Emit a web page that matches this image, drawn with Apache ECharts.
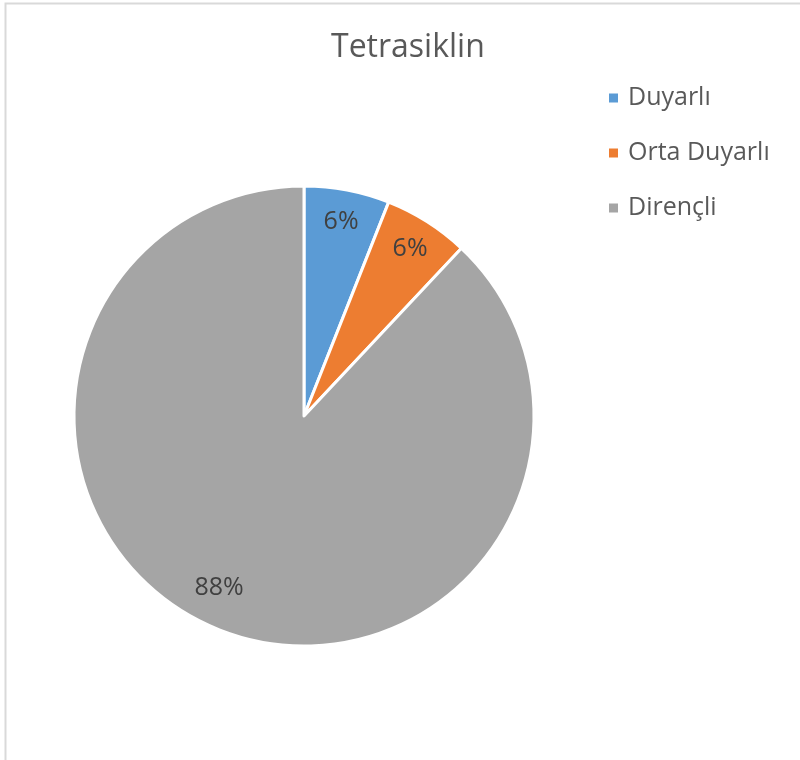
<!DOCTYPE html>
<html>
<head>
<meta charset="utf-8">
<script src="https://cdn.jsdelivr.net/npm/echarts@6/dist/echarts.min.js"></script>
<style>
  html, body { margin: 0; padding: 0; background: #fff; }
  #chart { width: 800px; height: 760px; }
</style>
</head>
<body>
<div id="chart"></div>
<script>
// Tetrasiklin susceptibility shares
const categories = ['Duyarlı', 'Orta Duyarlı', 'Dirençli'];
const percents = [6, 6, 88];
const colors = ['#5B9BD5', '#ED7D31', '#A5A5A5'];

const FONT = '"Open Sans", "DejaVu Sans", sans-serif';
const pieData = categories.map((name, i) => ({ name, value: percents[i], itemStyle: { color: colors[i] } }));

const chart = echarts.init(document.getElementById('chart'), null, { renderer: 'canvas' });
chart.setOption({
  animation: false,
  backgroundColor: '#ffffff',
  title: {
    text: 'Tetrasiklin',
    left: 326,
    top: 27,
    textStyle: { fontFamily: FONT, fontSize: 32, fontWeight: 'normal', color: '#595959' }
  },
  legend: {
    orient: 'vertical',
    left: 602,
    top: 78,
    icon: 'rect',
    itemWidth: 11,
    itemHeight: 11,
    itemGap: 25,
    data: categories,
    textStyle: { fontFamily: FONT, fontSize: 25, color: '#595959', lineHeight: 30, padding: [0, 0, 0, 4] }
  },
  graphic: [{
    type: 'rect',
    shape: { x: 5.5, y: 3.5, width: 900, height: 900 },
    style: { fill: 'none', stroke: '#d9d9d9', lineWidth: 2 },
    silent: true, z: -1
  }],
  series: [
    {
      type: 'pie',
      center: [304, 416],
      radius: [0, 230],
      startAngle: 90,
      clockwise: true,
      avoidLabelOverlap: false,
      label: { show: false },
      labelLine: { show: false },
      itemStyle: { borderColor: '#ffffff', borderWidth: 3 },
      emphasis: { disabled: true },
      data: pieData
    },
    {
      // transparent ring that carries the percentage labels
      type: 'pie',
      center: [304, 416],
      radius: [152, 238],
      startAngle: 90,
      clockwise: true,
      silent: true,
      avoidLabelOverlap: false,
      itemStyle: { color: 'rgba(0,0,0,0)', borderWidth: 0 },
      label: {
        show: true,
        position: 'inside',
        formatter: p => p.value + '%',
        fontFamily: FONT,
        fontSize: 25,
        color: '#404040'
      },
      labelLine: { show: false },
      emphasis: { disabled: true },
      data: categories.map((name, i) => ({
        name,
        value: percents[i],
        label: i === 2 ? { offset: [-12, -12] } : undefined
      }))
    }
  ]
});
</script>
</body>
</html>
